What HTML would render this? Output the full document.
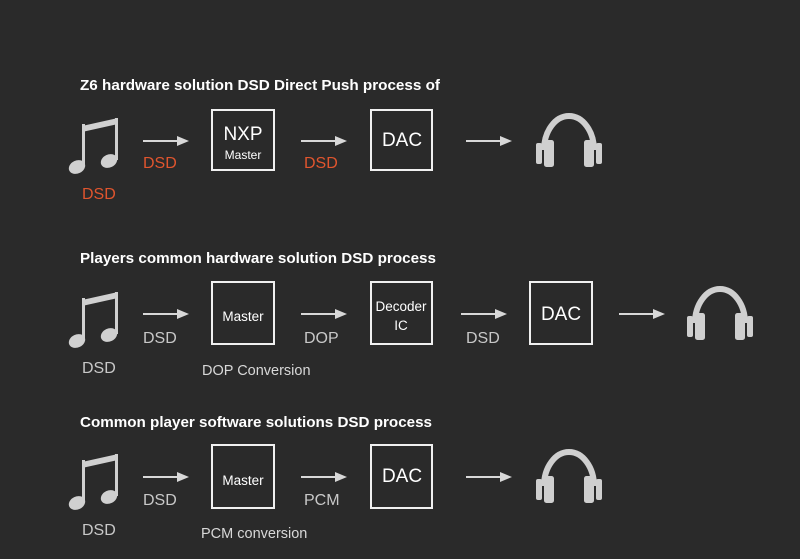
<!DOCTYPE html>
<html><head><meta charset="utf-8"><style>
html,body{margin:0;padding:0;background:#2a2a2a;}
svg{display:block}
text{font-family:"Liberation Sans",Arial,sans-serif;}
</style></head><body>
<svg width="800" height="559" viewBox="0 0 800 559" xmlns="http://www.w3.org/2000/svg">
<defs>
<g id="note">
  <path d="M14 10 L50 2 L50 8 L14 16 Z" fill="#d0d0d0"/>
  <rect x="14" y="8" width="3" height="42" fill="#d0d0d0"/>
  <rect x="47" y="2" width="3" height="42" fill="#d0d0d0"/>
  <ellipse cx="9" cy="51" rx="8.5" ry="6.5" transform="rotate(-25 9 51)" fill="#d0d0d0"/>
  <ellipse cx="41" cy="45" rx="8.5" ry="6.5" transform="rotate(-25 41 45)" fill="#d0d0d0"/>
</g>
<g id="hp">
  <path d="M9 40 A25 34 0 0 1 59 40" fill="none" stroke="#cfcfcf" stroke-width="6"/>
  <rect x="1" y="33" width="6" height="21" rx="2" fill="#cfcfcf"/>
  <rect x="9" y="30" width="10" height="27" rx="2.5" fill="#cfcfcf"/>
  <rect x="49" y="30" width="10" height="27" rx="2.5" fill="#cfcfcf"/>
  <rect x="61" y="33" width="6" height="21" rx="2" fill="#cfcfcf"/>
</g>
<g id="arr">
  <line x1="0" y1="0" x2="42" y2="0" stroke="#d8d8d8" stroke-width="2"/>
  <path d="M34 -5 L46 0 L34 5 Z" fill="#d8d8d8"/>
</g>
</defs>
<g fill="none" stroke="#f0f0f0" stroke-width="2">
  <rect x="212" y="110" width="62" height="60"/>
  <rect x="371" y="110" width="61" height="60"/>
  <rect x="212" y="282" width="62" height="62"/>
  <rect x="371" y="282" width="61" height="62"/>
  <rect x="530" y="282" width="62" height="62"/>
  <rect x="212" y="445" width="62" height="63"/>
  <rect x="371" y="445" width="61" height="63"/>
</g>
<use href="#note" x="68" y="116"/>
<use href="#note" x="68" y="290"/>
<use href="#note" x="68" y="452"/>
<use href="#hp" x="535" y="110"/>
<use href="#hp" x="686" y="283"/>
<use href="#hp" x="535" y="446"/>
<use href="#arr" x="143" y="141"/><use href="#arr" x="301" y="141"/><use href="#arr" x="466" y="141"/>
<use href="#arr" x="143" y="314"/><use href="#arr" x="301" y="314"/><use href="#arr" x="461" y="314"/><use href="#arr" x="619" y="314"/>
<use href="#arr" x="143" y="477"/><use href="#arr" x="301" y="477"/><use href="#arr" x="466" y="477"/>
<g fill="#ffffff" font-weight="bold" font-size="15">
  <text x="80" y="90" textLength="360" lengthAdjust="spacingAndGlyphs">Z6 hardware solution DSD Direct Push process of</text>
  <text x="80" y="263" textLength="356" lengthAdjust="spacingAndGlyphs">Players common hardware solution DSD process</text>
  <text x="80" y="427" textLength="352" lengthAdjust="spacingAndGlyphs">Common player software solutions DSD process</text>
</g>
<g fill="#e0552e" font-size="16">
  <text x="143" y="168">DSD</text><text x="304" y="168">DSD</text><text x="82" y="199">DSD</text>
</g>
<g fill="#c8c8c8" font-size="16">
  <text x="143" y="343">DSD</text><text x="304" y="343">DOP</text><text x="466" y="343">DSD</text><text x="82" y="373">DSD</text>
  <text x="143" y="505">DSD</text><text x="304" y="505">PCM</text><text x="82" y="535">DSD</text>
</g>
<g fill="#d8d8d8" font-size="14.5">
  <text x="202" y="375">DOP Conversion</text>
  <text x="201" y="538">PCM conversion</text>
</g>
<g fill="#ffffff" text-anchor="middle">
  <text x="243" y="140" font-size="19">NXP</text>
  <text x="243" y="159" font-size="12">Master</text>
  <text x="402" y="146" font-size="19">DAC</text>
  <text x="243" y="321" font-size="13.5">Master</text>
  <text x="401" y="311" font-size="13.5">Decoder</text>
  <text x="401" y="330" font-size="13.5">IC</text>
  <text x="561" y="320" font-size="19">DAC</text>
  <text x="243" y="485" font-size="13.5">Master</text>
  <text x="402" y="482" font-size="19">DAC</text>
</g>
</svg>
</body></html>
